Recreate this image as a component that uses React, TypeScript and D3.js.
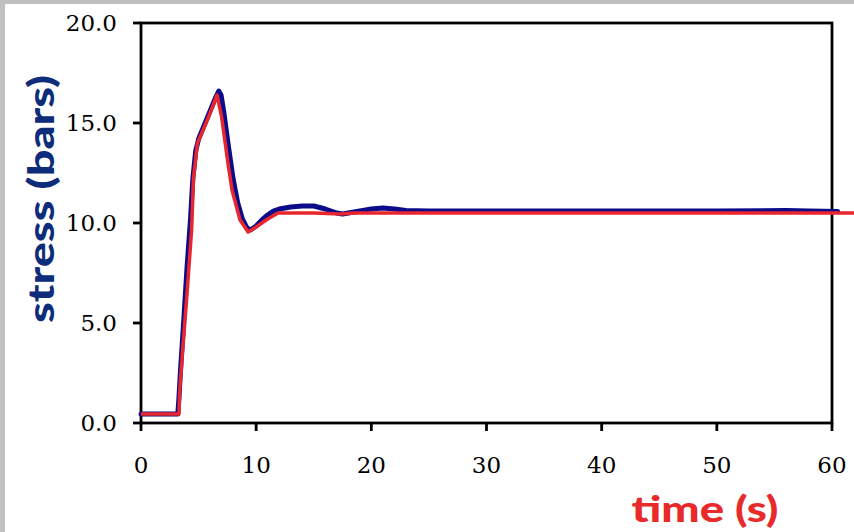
import React from "react";
import * as d3 from "d3";

// measured stress trace (blue)
const measuredTime = [0, 3.2, 3.3, 3.45, 3.7, 4.0, 4.3, 4.5, 4.75, 5.0, 5.5, 6.0, 6.5, 6.75, 6.95, 7.2, 7.6, 8.0, 8.4, 8.8, 9.2, 9.5, 10.0, 10.5, 11.0, 11.5, 12.0, 13.0, 14.0, 15.0, 16.0, 17.0, 17.5, 18.0, 19.0, 20.0, 21.0, 22.0, 23.0, 25, 30, 40, 50, 56, 58, 60.5];
const measuredStress = [0.45, 0.45, 1.3, 2.8, 5.0, 7.8, 10.2, 12.2, 13.6, 14.2, 14.9, 15.6, 16.3, 16.6, 16.4, 15.5, 13.8, 12.2, 11.0, 10.2, 9.75, 9.65, 9.85, 10.15, 10.4, 10.6, 10.7, 10.8, 10.85, 10.85, 10.7, 10.5, 10.45, 10.5, 10.6, 10.7, 10.75, 10.7, 10.62, 10.6, 10.6, 10.6, 10.6, 10.62, 10.6, 10.58];

// model curve (red)
const modelTime = [0, 3.3, 3.35, 3.6, 4.0, 4.4, 4.55, 4.9, 5.5, 6.0, 6.6, 7.0, 7.55, 7.9, 8.6, 9.3, 10.0, 11.0, 11.9, 15, 17.3, 18.5, 20, 30, 40, 50, 60, 62];
const modelStress = [0.45, 0.45, 1.5, 3.5, 6.5, 9.7, 12.2, 14.0, 14.8, 15.5, 16.4, 15.3, 13.0, 11.65, 10.15, 9.55, 9.8, 10.2, 10.5, 10.5, 10.45, 10.5, 10.5, 10.5, 10.5, 10.5, 10.5, 10.5];

const xTicks = [0, 10, 20, 30, 40, 50, 60];
const yTicks = [0, 5, 10, 15, 20];

export default function App() {
  const width = 854;
  const height = 532;
  const left = 141, right = 832, top = 23, bottom = 423;

  const x = d3.scaleLinear().domain([0, 60]).range([left, right]);
  const y = d3.scaleLinear().domain([0, 20]).range([bottom, top]);

  const path = d3.line<[number, number]>()
    .x((d) => x(d[0]))
    .y((d) => y(d[1]));

  const measured = path(measuredTime.map((t, i) => [t, measuredStress[i]]));
  const model = path(modelTime.map((t, i) => [t, modelStress[i]]));

  return (
    <div style={{ position: "fixed", left: 0, top: 0, width, height }}>
      <svg width={width} height={height}>
        <rect x={0} y={0} width={width} height={height} fill="#c0c0c0" />
        <rect x={5} y={4} width={width - 5} height={height - 4} fill="#ffffff" />

        <rect x={left} y={top} width={right - left} height={bottom - top}
          fill="none" stroke="#000" strokeWidth={2.8} />

        {yTicks.map((t) => (
          <g key={"y" + t}>
            <line x1={left - 8} x2={left} y1={y(t)} y2={y(t)} stroke="#000" strokeWidth={2.8} />
            <text x={117} y={y(t)} dy="0.35em" textAnchor="end"
              fontFamily="DejaVu Serif" fontSize={23} fill="#000">
              {t.toFixed(1)}
            </text>
          </g>
        ))}
        {xTicks.map((t) => (
          <g key={"x" + t}>
            <line x1={x(t)} x2={x(t)} y1={bottom} y2={bottom + 8} stroke="#000" strokeWidth={2.8} />
            <text x={x(t)} y={473} textAnchor="middle"
              fontFamily="DejaVu Serif" fontSize={23} fill="#000">
              {t}
            </text>
          </g>
        ))}

        <path d={measured || ""} fill="none" stroke="#0c0c8a" strokeWidth={5}
          strokeLinejoin="round" strokeLinecap="round" />
        <path d={model || ""} fill="none" stroke="#e8262e" strokeWidth={3.5}
          strokeLinejoin="round" />

        <text transform="translate(54,199) rotate(-90)" textAnchor="middle"
          fontFamily="'Comic Sans MS', Lato, sans-serif" fontWeight="900" fontSize={36}
          fill="#0d2c7a" textLength={248} lengthAdjust="spacingAndGlyphs">
          stress (bars)
        </text>
        <text x={705} y={522} textAnchor="middle"
          fontFamily="'Comic Sans MS', Lato, sans-serif" fontWeight="900" fontSize={36}
          fill="#e82a2a" textLength={147} lengthAdjust="spacingAndGlyphs">
          time (s)
        </text>
      </svg>
    </div>
  );
}
